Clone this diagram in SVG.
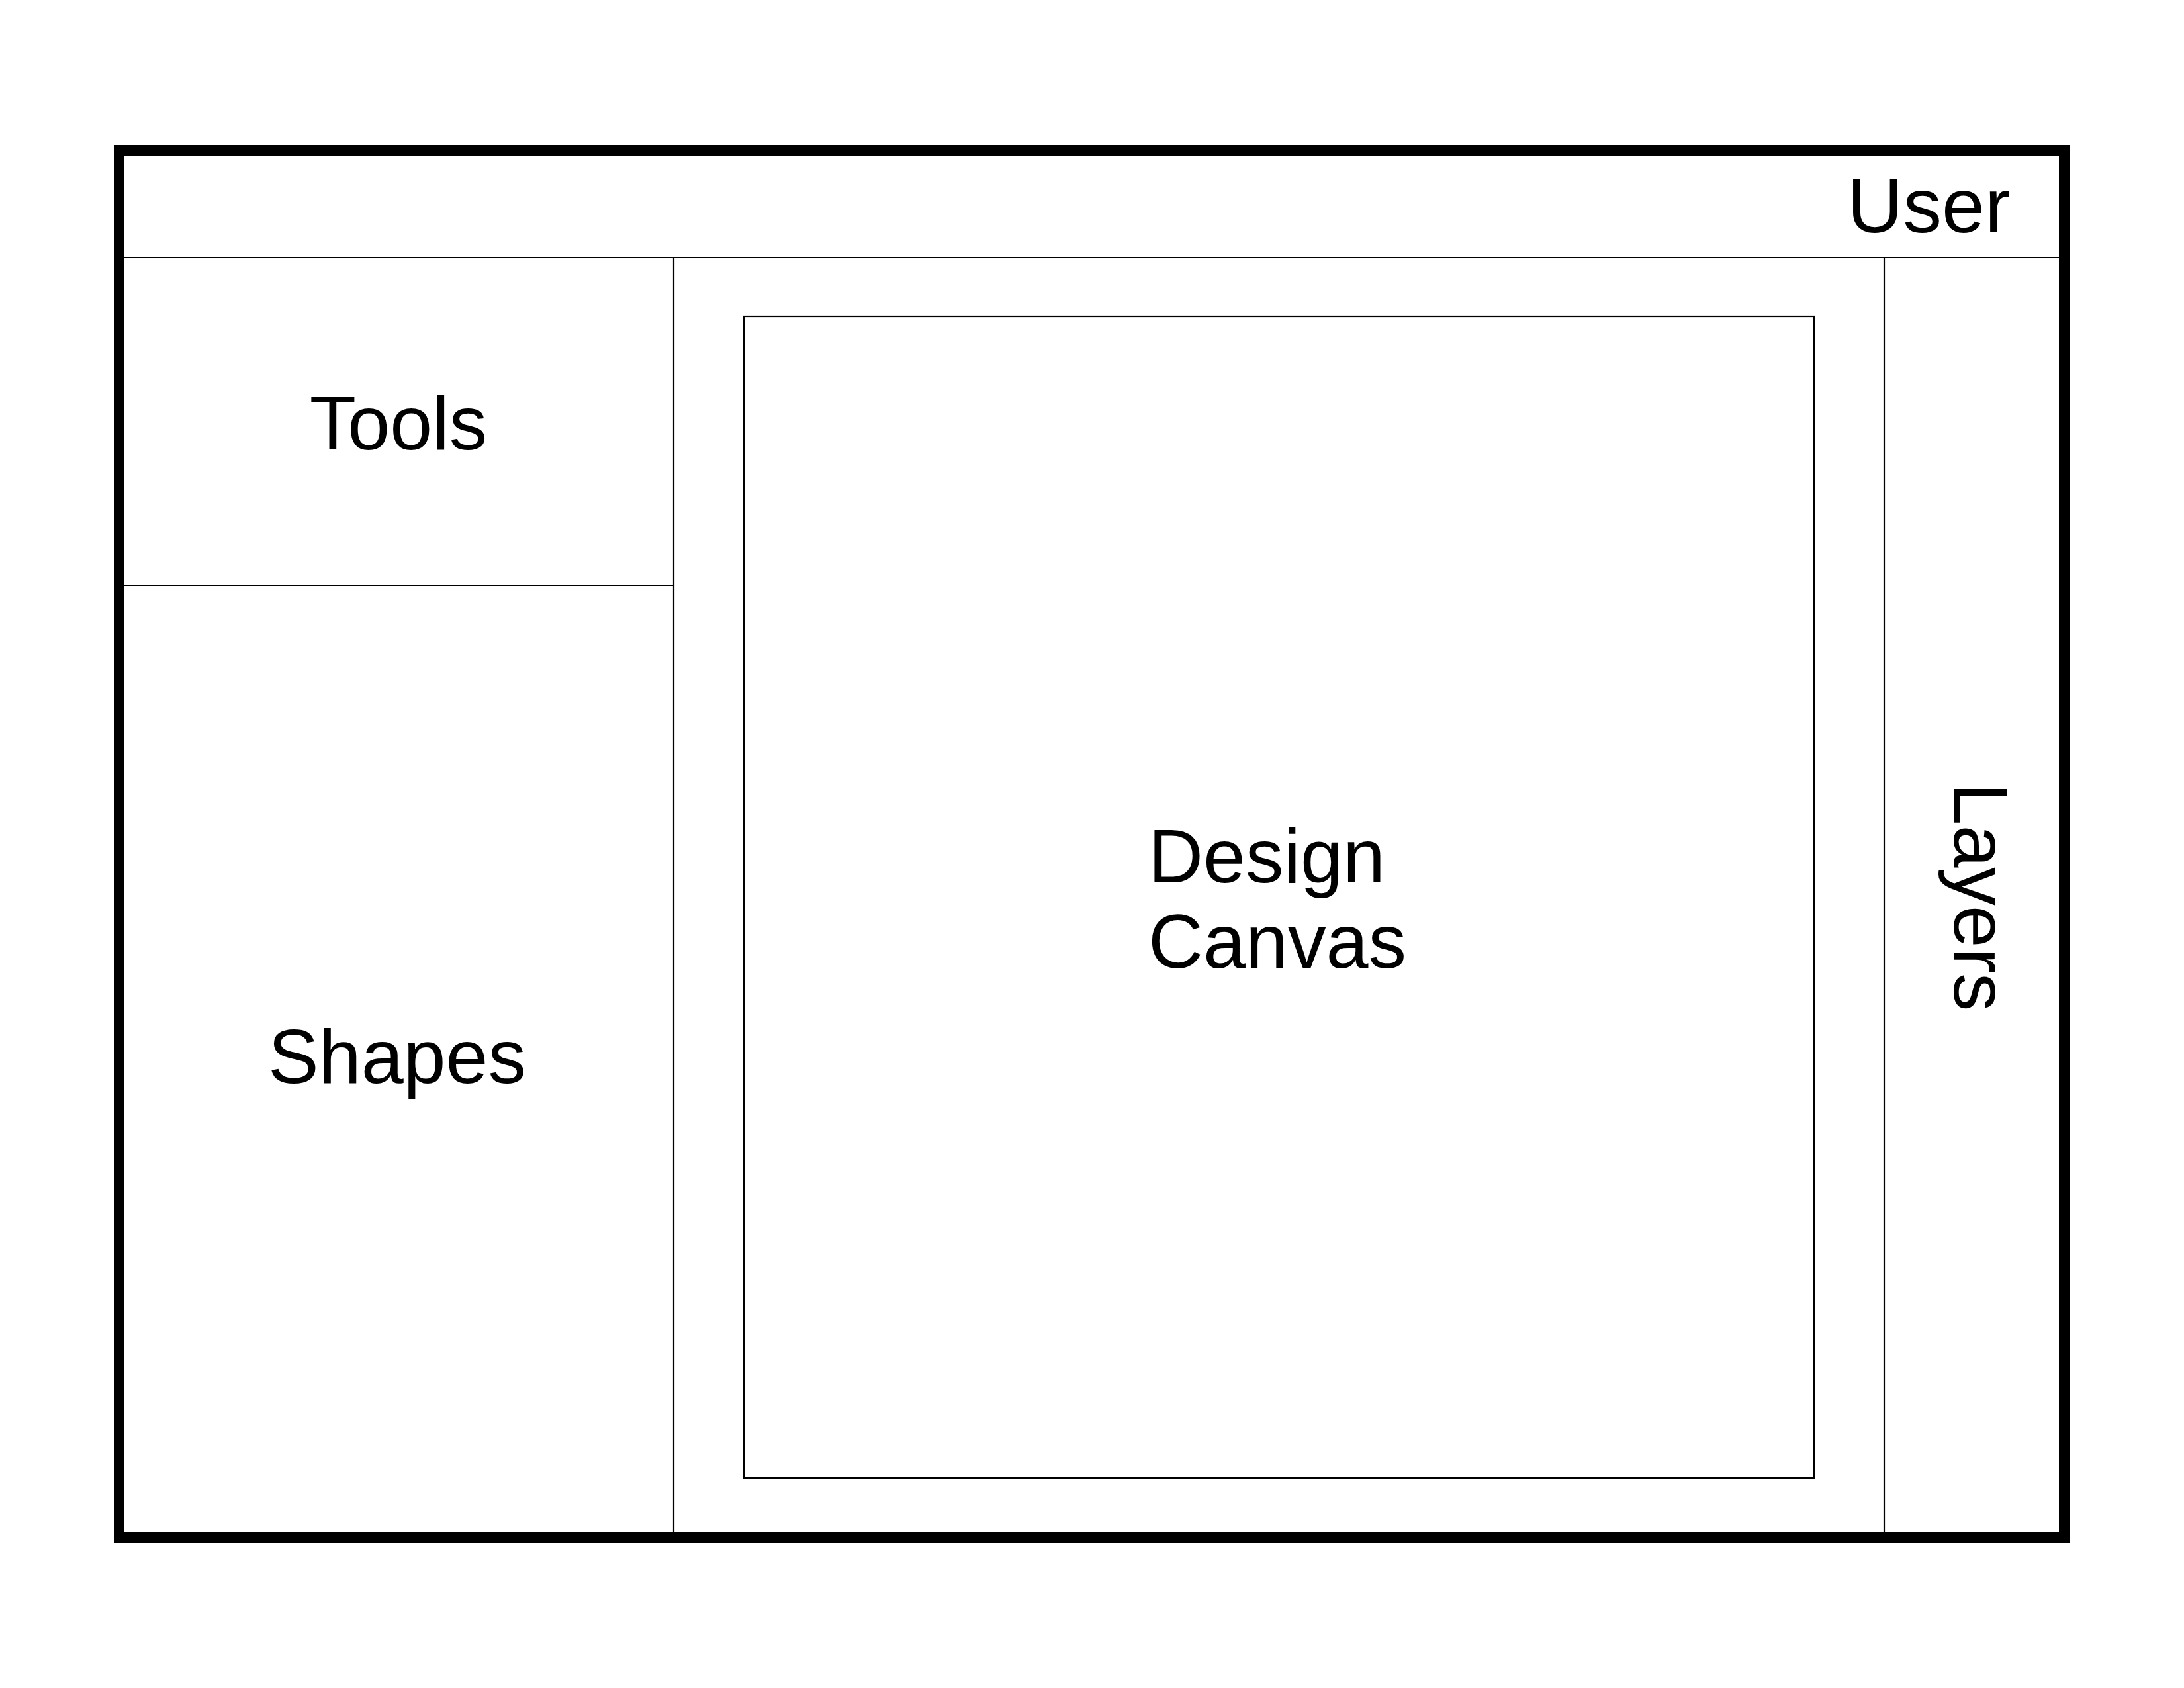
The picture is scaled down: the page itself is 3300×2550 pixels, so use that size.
<svg xmlns="http://www.w3.org/2000/svg" width="3300" height="2550" viewBox="0 0 3300 2550">
  <style>
    .frame { fill: none; stroke: #000; stroke-width: 16; }
    .rule { stroke: #000; stroke-width: 2.2; fill: none; }
    .label { font-family: "Liberation Sans", Arial, sans-serif; font-size: 115px; fill: #000; }
  </style>
  <rect width="3300" height="2550" fill="#fff"/>

  <!-- outer window frame -->
  <g id="window">
    <rect class="frame" x="180" y="227" width="2939" height="2096"/>
  </g>

  <!-- panel dividers -->
  <g id="dividers">
    <line class="rule" x1="188" y1="389" x2="3111" y2="389"/>
    <line class="rule" x1="1018" y1="389" x2="1018" y2="2315"/>
    <line class="rule" x1="2847" y1="389" x2="2847" y2="2315"/>
    <line class="rule" x1="188" y1="885" x2="1018" y2="885"/>
  </g>

  <g id="user">
    <text class="label" x="3038" y="351" text-anchor="end" style="font-size:117px">User</text>
  </g>

  <g id="tools">
    <text class="label" x="602" y="679" text-anchor="middle">Tools</text>
  </g>

  <g id="shapes">
    <text class="label" x="600" y="1636" text-anchor="middle">Shapes</text>
  </g>

  <g id="design-canvas">
    <rect class="rule" x="1124" y="478" width="1617" height="1755"/>
    <text class="label" x="1735" y="1333">Design</text>
    <text class="label" x="1735" y="1462">Canvas</text>
  </g>

  <g id="layers">
    <text class="label" transform="translate(2953,1355) rotate(90)" text-anchor="middle">Layers</text>
  </g>
</svg>
